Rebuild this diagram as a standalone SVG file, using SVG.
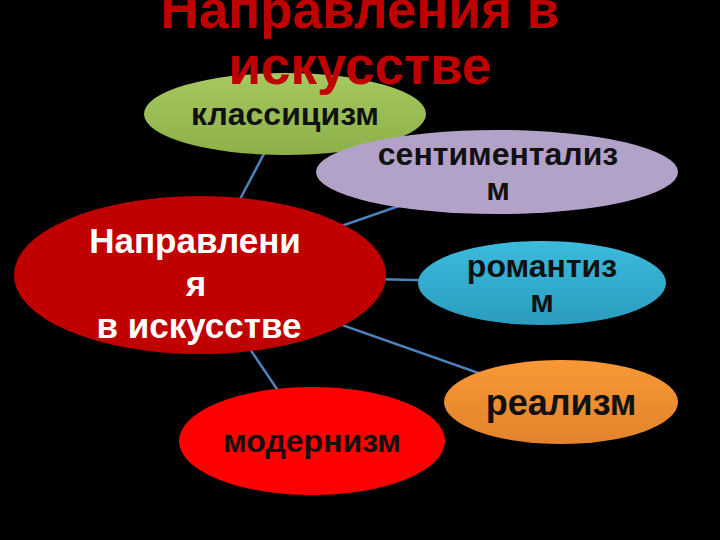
<svg xmlns="http://www.w3.org/2000/svg" width="720" height="540" viewBox="0 0 720 540">
<style>
.lbl{font-family:"Liberation Sans",Arial,sans-serif;font-weight:bold;text-anchor:middle;fill:#111}
.wh{fill:#ffffff}
.conn line{stroke:#4f81bd;stroke-width:2.5}
.title{font-family:"Liberation Sans",Arial,sans-serif;font-weight:bold;font-size:53px;fill:#c00000;text-anchor:middle}
</style>
<defs>
<linearGradient id="gGreen" x1="0" y1="0" x2="0" y2="1"><stop offset="0" stop-color="#a6c860"/><stop offset="1" stop-color="#8db04a"/></linearGradient>
<linearGradient id="gBlue" x1="0" y1="0" x2="0" y2="1"><stop offset="0" stop-color="#3cbbdc"/><stop offset="1" stop-color="#2a9cc0"/></linearGradient>
<linearGradient id="gOrange" x1="0" y1="0" x2="0" y2="1"><stop offset="0" stop-color="#f99835"/><stop offset="1" stop-color="#e2832c"/></linearGradient>
</defs>
<rect width="720" height="540" fill="#000"/>
<g id="connectors" class="conn">
<line x1="200" y1="275" x2="285" y2="114"/>
<line x1="200" y1="275" x2="497" y2="172"/>
<line x1="200" y1="275" x2="542" y2="283"/>
<line x1="200" y1="275" x2="561" y2="402"/>
<line x1="200" y1="275" x2="312" y2="441"/>
</g>
<g id="classicism">
<ellipse cx="285" cy="114" rx="141" ry="41" fill="url(#gGreen)"/>
<text class="lbl" x="285" y="125" font-size="32">классицизм</text>
</g>
<g id="sentimentalism">
<ellipse cx="497" cy="172" rx="181" ry="42" fill="#b3a2c7"/>
<text class="lbl" x="498" y="165" font-size="32">сентиментализ</text>
<text class="lbl" x="498" y="200" font-size="32">м</text>
</g>
<g id="center">
<ellipse cx="200" cy="275" rx="186" ry="79" fill="#c00000"/>
<text class="lbl wh" x="195" y="253" font-size="35">Направлени</text>
<text class="lbl wh" x="196" y="296" font-size="35">я</text>
<text class="lbl wh" x="199" y="338" font-size="35">в искусстве</text>
</g>
<g id="romanticism">
<ellipse cx="542" cy="283" rx="124" ry="42" fill="url(#gBlue)"/>
<text class="lbl" x="542" y="277" font-size="32">романтиз</text>
<text class="lbl" x="542" y="312" font-size="32">м</text>
</g>
<g id="realism">
<ellipse cx="561" cy="402" rx="117" ry="42" fill="url(#gOrange)"/>
<text class="lbl" x="561" y="415" font-size="36">реализм</text>
</g>
<g id="modernism">
<ellipse cx="312" cy="441" rx="133" ry="54" fill="#ff0000"/>
<text class="lbl" x="312" y="452" font-size="32">модернизм</text>
</g>
<g id="title">
<text class="title" x="360" y="28">Направления в</text>
<text class="title" x="360" y="84">искусстве</text>
</g>
</svg>
